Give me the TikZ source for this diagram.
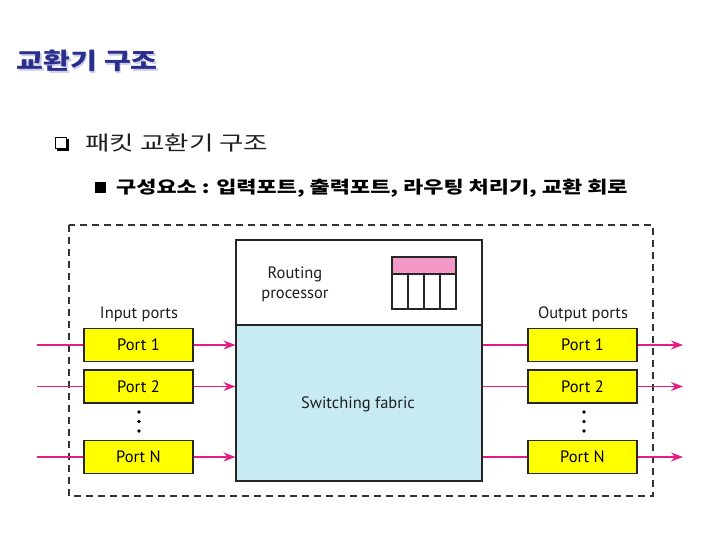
\documentclass[tikz,border=0pt]{standalone}
\usepackage{fontspec}
\setmainfont{PT Sans}
\newfontfamily\kr{Noto Sans CJK KR}
\usetikzlibrary{arrows.meta}
\definecolor{titleblue}{RGB}{42,46,140}
\definecolor{titleshadow}{RGB}{205,207,232}
\definecolor{sigpink}{RGB}{228,30,130}
\definecolor{portyellow}{RGB}{255,255,0}
\definecolor{fabricblue}{RGB}{200,235,243}
\definecolor{headpink}{RGB}{244,152,200}
\definecolor{textgray}{RGB}{30,30,30}
\tikzset{
  portbox/.style={draw=black!85, line width=1.1pt, fill=portyellow, minimum width=109pt, minimum height=33pt, inner sep=0pt, font=\fontsize{16.5}{18}\selectfont},
  sig/.style={draw=sigpink, line width=1.4pt},
  sigarrow/.style={sig, -{Stealth[length=12pt,width=9pt,inset=4pt]}},
  lbl/.style={font=\fontsize{16.5}{18}\selectfont, text=textgray, inner sep=0pt},
  dotmark/.style={circle, fill=black, inner sep=0pt, minimum size=3.6pt},
  frame/.style={draw=black!80, line width=1.2pt, dash pattern=on 7pt off 5pt},
  unit/.style={draw=black!85, line width=1.1pt}
}
\begin{document}
\begin{tikzpicture}[x=1pt,y=-1pt]
\useasboundingbox[fill=white] (0,0) rectangle (720,540);

% title
\node[anchor=west, inner sep=0pt, text=titleshadow, font=\kr\bfseries\fontsize{23}{26}\selectfont] (titlesh) at (18,62.5) {\scalebox{1.27}[1]{교환기 구조}};
\node[anchor=west, inner sep=0pt, text=titleblue, font=\kr\bfseries\fontsize{23}{26}\selectfont] (title) at (16.5,61) {\scalebox{1.27}[1]{교환기 구조}};

% bullet 1
\fill[black] (57,139) rectangle (69,151);
\draw[fill=white, draw=black, line width=0.9pt] (55.5,137.5) rectangle (66.5,148.5);
\node[anchor=west, inner sep=0pt, text=textgray, font=\kr\fontsize{20}{24}\selectfont] (sub) at (85,143) {\scalebox{1.33}[1]{패킷 교환기 구조}};

% bullet 2
\fill[black] (95,182) rectangle (106,193);
\node[anchor=west, inner sep=0pt, text=black, font=\kr\bfseries\fontsize{17}{20}\selectfont] (items) at (116,188) {\scalebox{1.29}[1]{구성요소 : 입력포트, 출력포트, 라우팅 처리기, 교환 회로}};

% dashed frame
\draw[frame] (69,225) rectangle (653,496);

% routing processor and fabric
\node[unit, fill=white, minimum width=246pt, minimum height=85pt, inner sep=0pt] (rp) at (359,282.5) {};
\node[unit, fill=fabricblue, minimum width=246pt, minimum height=156pt, inner sep=0pt] (fab) at (359,403) {};
\node[lbl] (fabl) at (358,404) {Switching fabric};
\node[lbl, align=center, font=\fontsize{16.5}{20}\selectfont] (rpl) at (295,284) {Routing\\processor};

% table
\draw[unit, fill=headpink] (392,257) rectangle (456,274);
\draw[unit] (392,274) rectangle (456,309);
\draw[unit] (408,274) -- (408,309);
\draw[unit] (424,274) -- (424,309);
\draw[unit] (440,274) -- (440,309);

% ports
\node[lbl] (inl) at (139,314) {Input ports};
\node[lbl] (outl) at (583,314) {Output ports};
\node[portbox] (ip1) at (138.5,345) {Port 1};
\node[portbox] (ip2) at (138.5,386.5) {Port 2};
\node[portbox] (ipn) at (138.5,457) {Port N};
\node[portbox] (op1) at (582.5,345) {Port 1};
\node[portbox] (op2) at (582.5,386.5) {Port 2};
\node[portbox] (opn) at (582.5,457) {Port N};

\node[dotmark] (d1) at (139,412) {};
\node[dotmark] (d2) at (139,421.5) {};
\node[dotmark] (d3) at (139,431) {};
\node[dotmark] (e1) at (584,412) {};
\node[dotmark] (e2) at (584,421.5) {};
\node[dotmark] (e3) at (584,431) {};

% connectors
\coordinate (a1) at (37,345);
\coordinate (a2) at (37,386.5);
\coordinate (an) at (37,457);
\coordinate (b1) at (683,345);
\coordinate (b2) at (683,386.5);
\coordinate (bn) at (683,457);
\draw[sig] (a1) -- (ip1.west);
\draw[sig] (a2) -- (ip2.west);
\draw[sig] (an) -- (ipn.west);
\draw[sigarrow] (ip1.east) -- (ip1.east -| fab.west);
\draw[sigarrow] (ip2.east) -- (ip2.east -| fab.west);
\draw[sigarrow] (ipn.east) -- (ipn.east -| fab.west);
\draw[sig] (op1.west -| fab.east) -- (op1.west);
\draw[sig] (op2.west -| fab.east) -- (op2.west);
\draw[sig] (opn.west -| fab.east) -- (opn.west);
\draw[sigarrow] (op1.east) -- (b1);
\draw[sigarrow] (op2.east) -- (b2);
\draw[sigarrow] (opn.east) -- (bn);
\end{tikzpicture}
\end{document}
